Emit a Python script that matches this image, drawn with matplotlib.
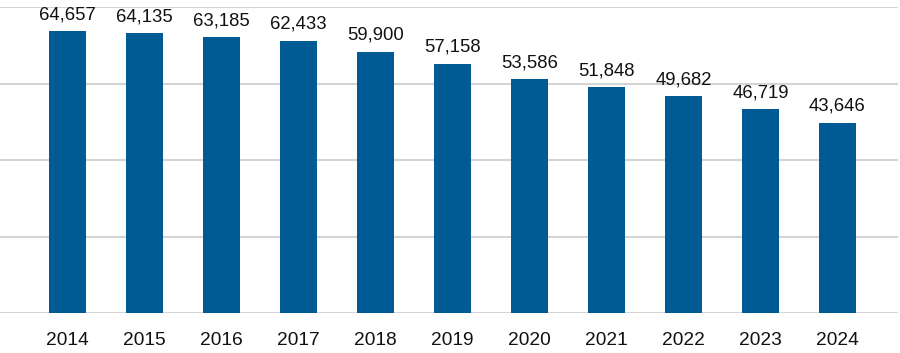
import matplotlib
matplotlib.use('Agg')
import matplotlib.pyplot as plt

years = ['2014', '2015', '2016', '2017', '2018', '2019', '2020', '2021', '2022', '2023', '2024']
values = [64657, 64135, 63185, 62433, 59900, 57158, 53586, 51848, 49682, 46719, 43646]

plt.rcParams['font.family'] = ['Liberation Sans', 'DejaVu Sans']

fig = plt.figure(figsize=(9, 3.53), dpi=100)
ax = fig.add_axes([0, 0.1133, 898 / 900, 0.8655])

x = list(range(len(years)))
ax.bar(x, values, width=0.47, color='#005A94', zorder=3)

# value labels above each bar
for xi, v in zip(x, values):
    ax.annotate(f'{v:,}', (xi, v), xytext=(0, 8.4), textcoords='offset points',
                ha='center', va='baseline', fontsize=13.3, color='#111111')

ax.set_ylim(0, 70000)
ax.set_yticks([0, 17500, 35000, 52500, 70000])
ax.set_xlim(-0.877, 10.786)
ax.set_xticks(x)
ax.set_xticklabels(years, fontsize=13.8, color='#111111')
ax.tick_params(axis='x', length=0, pad=14)
ax.tick_params(axis='y', length=0, labelleft=False)
ax.grid(axis='y', color='#D4D4D4', linewidth=1.5, zorder=0)
for s in ax.spines.values():
    s.set_visible(False)

fig.savefig('out.png', dpi=100)
